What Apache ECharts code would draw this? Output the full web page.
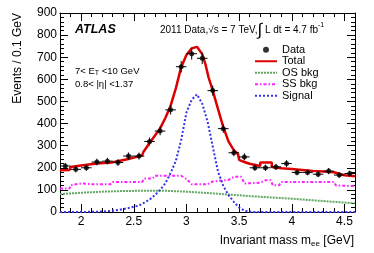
<!DOCTYPE html>
<html><head><meta charset="utf-8">
<script src="https://cdn.jsdelivr.net/npm/echarts@6/dist/echarts.min.js"></script>
<style>html,body{margin:0;padding:0;background:#fff}#c{width:374px;height:253px}</style>
</head><body><div id="c"></div>
<script>
// ---- data ----
const binCenters = [1.85,1.95,2.05,2.15,2.25,2.35,2.45,2.55,2.65,2.75,2.85,2.95,3.05,3.15,3.25,3.35,3.45,3.55,3.65,3.75,3.85,3.95,4.05,4.15,4.25,4.35,4.45,4.55];
const dataCounts = [208,193,200,226,230,224,253,253,319,366,462,657,716,695,549,377,268,249,200,200,204,219,179,179,171,185,167,174];
const dataErrors = [14,14,14,15,15,15,16,16,18,19,21,26,27,26,23,19,16,16,14,14,14,15,13,13,13,14,13,13];
const binHalfWidth = 0.05;

const totalX = [1.80,1.89,1.90,2.00,2.15,2.29,2.30,2.45,2.50,2.58,2.59,2.65,2.70,2.75,2.80,2.85,2.90,2.95,3.00,3.05,3.10,3.15,3.18,3.21,3.245,3.30,3.35,3.40,3.45,3.49,3.50,3.55,3.60,3.70,3.701,3.81,3.811,3.90,4.00,4.10,4.20,4.30,4.40,4.401,4.50,4.60];
const totalY = [189,190,204,210,219,224,228,240,246,256,270,312,345,378,425,481,560,655,710,740,747,714,669,609,557,465,384,318,280,262,236,226,218,208,224,224,204,198,194,190,186,183,180,171,166,162];

const osX = [1.8,2.0,2.2,2.4,2.6,2.8,3.0,3.2,3.4,3.6,3.8,4.0,4.2,4.4,4.6];
const osY = [81,87,92,95,96,96,92,86,79,72,66,60,53,46,39];

const ssX = [1.80,1.89,1.90,2.00,2.10,2.28,2.30,2.58,2.60,2.68,2.70,2.95,3.00,3.05,3.20,3.25,3.40,3.45,3.52,3.55,3.70,3.75,3.80,3.82,3.88,3.90,4.40,4.42,4.60];
const ssY = [106,106,121,129,126,126,136,136,152,152,164,164,150,125,125,138,145,159,159,129,132,144,144,121,121,136,136,120,117];

const sigX = [1.80,2.00,2.20,2.25,2.30,2.35,2.40,2.45,2.50,2.55,2.60,2.65,2.70,2.75,2.80,2.85,2.90,2.95,3.00,3.05,3.10,3.15,3.20,3.25,3.30,3.35,3.40,3.45,3.50,3.55,3.60,3.65,4.00,4.60];
const sigY = [0,0,2,4,6,9,13,18,24,29,42,56,76,100,130,176,232,325,450,508,532,490,410,296,182,118,76,46,20,6,1,0,0,0];

const xMin = 1.8, xMax = 4.6;
const yMin = 0, yMax = 900, yStep = 100;
const legendNames = ['Data','Total','OS bkg','SS bkg','Signal'];
// ---------------------------------------

const FONT = 'Liberation Sans, Arial, Helvetica, sans-serif';
const zip = (xs, ys) => xs.map((x, i) => [x, ys[i]]);

const chart = echarts.init(document.getElementById('c'), null, {renderer: 'canvas'});

const axisCommon = {
  axisLine: {show: true, onZero: false, lineStyle: {color: '#000', width: 1}},
  axisTick: {show: true, inside: true, length: 8, lineStyle: {color: '#000', width: 1}},
  minorTick: {show: true, splitNumber: 5, length: 4, lineStyle: {color: '#000', width: 1}},
  splitLine: {show: false},
};

chart.setOption({
  animation: false,
  backgroundColor: '#fff',
  grid: {left: 60, right: 19, top: 13, bottom: 41, containLabel: false},
  xAxis: [
    Object.assign({type: 'value', min: xMin, max: xMax, position: 'bottom',
      axisLabel: {show: true, color: '#000', fontSize: 12, fontFamily: FONT, margin: 4,
        showMinLabel: false, showMaxLabel: false}}, axisCommon),
    Object.assign({type: 'value', min: xMin, max: xMax, position: 'top',
      axisLabel: {show: false}}, axisCommon)
  ],
  yAxis: [
    Object.assign({type: 'value', min: yMin, max: yMax, interval: yStep, position: 'left',
      axisLabel: {show: true, color: '#000', fontSize: 12, fontFamily: FONT, margin: 3}}, axisCommon),
    Object.assign({type: 'value', min: yMin, max: yMax, interval: yStep, position: 'right',
      axisLabel: {show: false}}, axisCommon)
  ],
  legend: {
    orient: 'vertical', left: 249, top: 39, itemWidth: 22, itemHeight: 6, itemGap: 0, itemTextGap: 7,
    data: legendNames.map(n => n === 'Data'
      ? {name: n, icon: 'circle'}
      : {name: n, itemStyle: {opacity: 0}}),
    textStyle: {color: '#000', fontSize: 11, fontFamily: FONT, lineHeight: 11.5},
    selectedMode: false
  },
  series: [
    {name: 'OS bkg', type: 'line', data: zip(osX, osY), showSymbol: false, symbol: 'none',
      lineStyle: {color: '#62a862', width: 2, type: [2, 1]}, itemStyle: {color: '#62a862'}, z: 2},
    {name: 'SS bkg', type: 'line', data: zip(ssX, ssY), showSymbol: false, symbol: 'none',
      lineStyle: {color: '#ff22ff', width: 2, type: [3, 2, 1.5, 2]}, itemStyle: {color: '#ff22ff'}, z: 2},
    {name: 'Signal', type: 'line', data: zip(sigX, sigY), showSymbol: false, symbol: 'none',
      lineStyle: {color: '#3333ee', width: 2, type: [2, 2]}, itemStyle: {color: '#3333ee'}, z: 3},
    {name: 'Total', type: 'line', data: zip(totalX, totalY), showSymbol: false, symbol: 'none',
      lineStyle: {color: '#dd0000', width: 2.5}, itemStyle: {color: '#dd0000'}, z: 4},
    {name: 'err', type: 'custom', z: 5,
      data: binCenters.map((x, i) => [x, dataCounts[i], dataErrors[i]]),
      encode: {x: 0, y: 1},
      renderItem: function (params, api) {
        const x = api.value(0), y = api.value(1), e = api.value(2);
        const l = api.coord([x - binHalfWidth, y]), r = api.coord([x + binHalfWidth, y]);
        const t = api.coord([x, y + e]), b = api.coord([x, y - e]);
        const st = {stroke: '#000', lineWidth: 1};
        return {type: 'group', children: [
          {type: 'line', shape: {x1: l[0], y1: l[1], x2: r[0], y2: r[1]}, style: st},
          {type: 'line', shape: {x1: t[0], y1: t[1], x2: b[0], y2: b[1]}, style: st}
        ]};
      }},
    {name: 'Data', type: 'scatter', data: zip(binCenters, dataCounts), symbol: 'circle', symbolSize: 5,
      itemStyle: {color: '#000'}, z: 6}
  ],
  graphic: [
    {type: 'text', left: 75, top: 23, style: {text: 'ATLAS', font: 'italic bold 12.5px ' + FONT, fill: '#000'}},
    {type: 'text', left: 160, top: 22, style: {
      text: '{a|2011 Data,√s = 7 TeV,}{b|∫}{a| L dt = 4.7 fb}{c|-1}',
      rich: {
        a: {fontSize: 10, fontFamily: FONT, fill: '#000', color: '#000'},
        b: {fontSize: 17, fontFamily: FONT, fill: '#000', color: '#000'},
        c: {fontSize: 7, fontFamily: FONT, fill: '#000', color: '#000', verticalAlign: 'top', padding: [0,0,8,0]}
      }}},
    {type: 'text', left: 75, top: 66, style: {
      text: '{a|7< E}{s|T}{a| <10 GeV}',
      rich: {
        a: {fontSize: 9.5, fontFamily: FONT, fill: '#000', color: '#000'},
        s: {fontSize: 7, fontFamily: FONT, fill: '#000', color: '#000', padding: [5,0,0,0]}
      }}},
    {type: 'text', left: 75, top: 79, style: {text: '0.8< |η| <1.37', font: '9.5px ' + FONT, fill: '#000'}},
    {type: 'text', x: 18, y: 13, rotation: Math.PI / 2, style: {
      text: 'Events / 0.1 GeV', font: '12px ' + FONT, fill: '#000', align: 'right', verticalAlign: 'middle'}},
    {type: 'text', right: 20, top: 235, style: {
      text: '{a|Invariant mass m}{s|ee}{a| [GeV]}',
      rich: {
        a: {fontSize: 12, fontFamily: FONT, fill: '#000', color: '#000'},
        s: {fontSize: 8, fontFamily: FONT, fill: '#000', color: '#000', padding: [6,0,0,0]}
      }}}
  ]
});
</script></body></html>
